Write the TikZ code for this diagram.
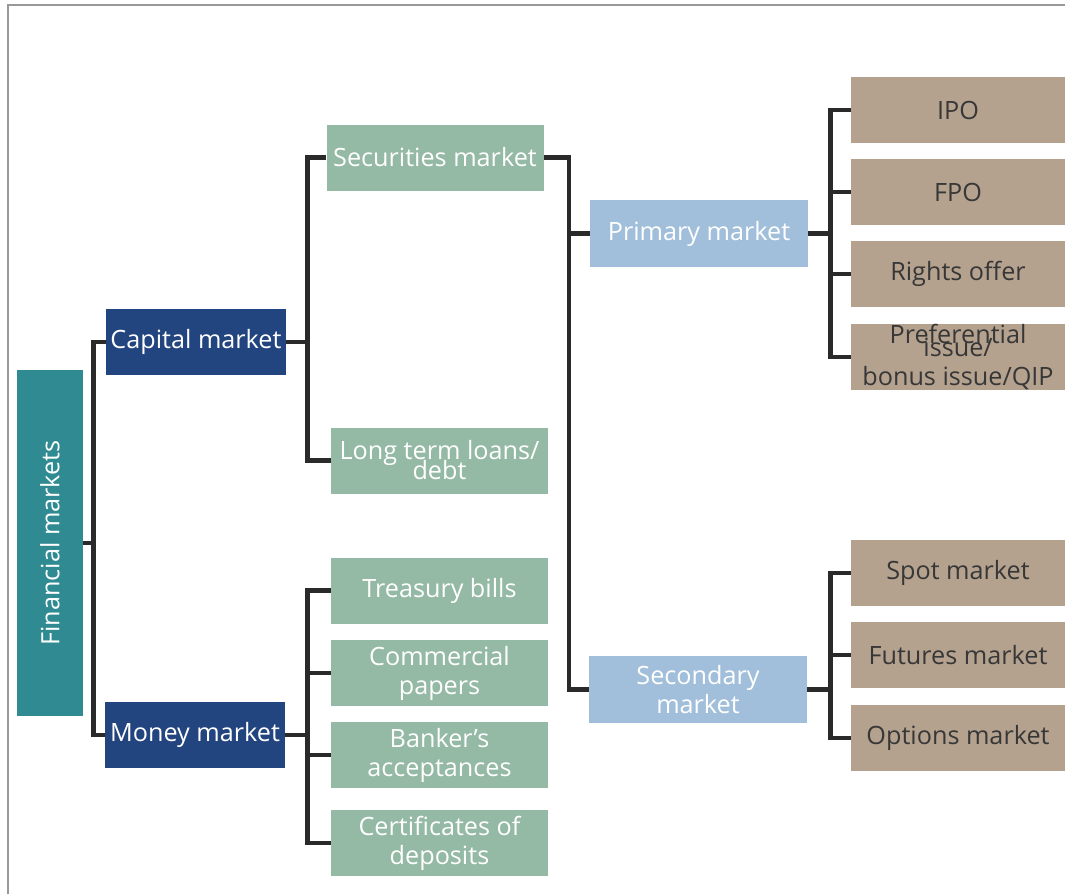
\documentclass[tikz,border=0pt]{standalone}
\usepackage{fontspec}
\setmainfont{Open Sans}
\definecolor{fmteal}{RGB}{47,139,145}
\definecolor{fmblue}{RGB}{34,68,127}
\definecolor{fmsage}{RGB}{148,185,165}
\definecolor{fmsky}{RGB}{161,191,218}
\definecolor{fmtan}{RGB}{180,162,143}
\definecolor{fmline}{RGB}{42,42,42}
\definecolor{fmtext}{RGB}{55,55,55}
\begin{document}
\begin{tikzpicture}[x=0.5pt, y=-0.5pt,
  bx/.style={rectangle, inner sep=0pt, align=center, text=white,
    font=\fontsize{12.6}{14.5}\selectfont, minimum height=33pt},
  lv0/.style={bx, fill=fmteal, minimum width=33pt, minimum height=173pt},
  lv1/.style={bx, fill=fmblue, minimum width=90pt},
  lv2/.style={bx, fill=fmsage, minimum width=108.5pt},
  lv3/.style={bx, fill=fmsky, minimum width=109pt, minimum height=33.5pt},
  lv4/.style={bx, fill=fmtan, minimum width=107pt, text=fmtext},
  conn/.style={draw=fmline, line width=2.2pt}]
\useasboundingbox (0,0) rectangle (1065,894);
\draw[gray!80, line width=0.8pt] (8,894) -- (8,5) -- (1065,5);
\node[lv0] (mkt0) at (50,543){\rotatebox{90}{Financial markets}};
\node[lv1] (mkt1) at (196,342){Capital market};
\node[lv1] (mkt2) at (195,735){Money market};
\draw[conn](mkt0.east) -- ++(10,0) |- (mkt1.west);
\draw[conn](mkt0.east) -- ++(10,0) |- (mkt2.west);
\node[lv2] (mkt3) at (435,157.5){Securities market};
\node[lv2] (mkt4) at (439.5,460.5){Long term loans/\\[-4.5pt]debt};
\draw[conn](mkt1.east) -- ++(21,0) |- (mkt3.west);
\draw[conn](mkt1.east) -- ++(21,0) |- (mkt4.west);
\node[lv2] (mkt5) at (439.5,590.5){Treasury bills};
\node[lv2] (mkt6) at (439.5,673){Commercial\\papers};
\node[lv2] (mkt7) at (439.5,755){Banker’s\\acceptances};
\node[lv2] (mkt8) at (439.5,843){Certificates of\\deposits};
\draw[conn](mkt2.east) -- ++(22,0) |- (mkt5.west);
\draw[conn](mkt2.east) -- ++(22,0) |- (mkt6.west);
\draw[conn](mkt2.east) -- ++(22,0) |- (mkt7.west);
\draw[conn](mkt2.east) -- ++(22,0) |- (mkt8.west);
\node[lv3] (mkt9) at (699,233.5){Primary market};
\node[lv3] (mkt10) at (698,689.5){Secondary\\market};
\draw[conn](mkt3.east) -- ++(25,0) |- (mkt9.west);
\draw[conn](mkt3.east) -- ++(25,0) |- (mkt10.west);
\node[lv4] (mkt11) at (958,110){IPO};
\node[lv4] (mkt12) at (958,192){FPO};
\node[lv4] (mkt13) at (958,274){Rights offer};
\node[lv4] (mkt14) at (958,357){Preferential\\[-8pt]issue/\\bonus issue/QIP};
\draw[conn](mkt9.east) -- ++(22,0) |- (mkt11.west);
\draw[conn](mkt9.east) -- ++(22,0) |- (mkt12.west);
\draw[conn](mkt9.east) -- ++(22,0) |- (mkt13.west);
\draw[conn](mkt9.east) -- ++(22,0) |- (mkt14.west);
\node[lv4] (mkt15) at (958,573){Spot market};
\node[lv4] (mkt16) at (958,655){Futures market};
\node[lv4] (mkt17) at (958,738){Options market};
\draw[conn](mkt10.east) -- ++(23,0) |- (mkt15.west);
\draw[conn](mkt10.east) -- ++(23,0) |- (mkt16.west);
\draw[conn](mkt10.east) -- ++(23,0) |- (mkt17.west);
\end{tikzpicture}
\end{document}
